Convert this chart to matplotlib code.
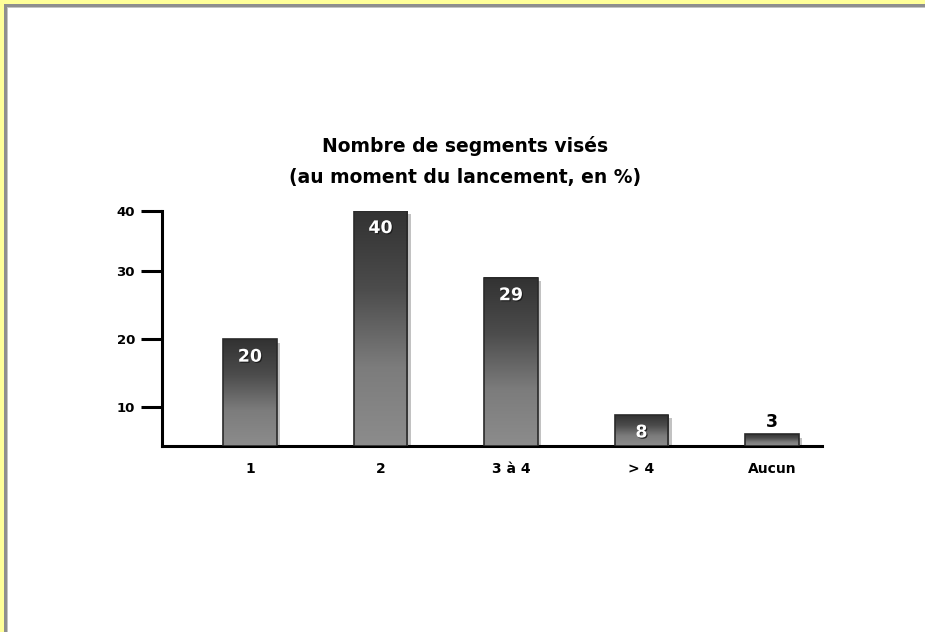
import numpy as np
import matplotlib
matplotlib.use("Agg")
import matplotlib.pyplot as plt
from matplotlib.patches import Rectangle
from matplotlib.transforms import Bbox, TransformedBbox, BboxTransformTo, ScaledTranslation
from matplotlib.colors import LinearSegmentedColormap
import matplotlib.patheffects as pe

plt.rcParams["font.family"] = ["DejaVu Sans"]
plt.rcParams["font.weight"] = "bold"

# --- data -------------------------------------------------------------
title_lines = ["Nombre de segments visés", "(au moment du lancement, en %)"]
categories = ["1", "2", "3 à 4", "> 4", "Aucun"]
values = [20, 40, 29, 8, 3]
y_ticks = [10, 20, 30, 40]

# the value axis is drawn piecewise: each decade gets its own height
axis_levels = [0, 10, 20, 30, 40]
level_heights = [0.0, 38.7, 106.7, 175.0, 235.3]


def _fwd(v):
    return np.interp(v, axis_levels, level_heights)


def _inv(h):
    return np.interp(h, level_heights, axis_levels)


fig = plt.figure(figsize=(9.25, 6.32), dpi=100)
fig.patch.set_facecolor("white")

# yellow frame with a grey inner rule on the top and left edges
W, H = 925.0, 632.0
for r in [
    Rectangle((0, 1 - 4 / H), 1, 4 / H, facecolor="#ffff99"),
    Rectangle((0, 0), 4 / W, 1, facecolor="#ffff99"),
    Rectangle((4 / W, 1 - 8 / H), 1 - 4 / W, 4 / H, facecolor="#c4c4c4"),
    Rectangle((4 / W, 0), 4 / W, 1 - 4 / H, facecolor="#c4c4c4"),
    Rectangle((4 / W, 1 - 7 / H), 1 - 4 / W, 3 / H, facecolor="#8e8e8e"),
    Rectangle((4 / W, 0), 3 / W, 1 - 4 / H, facecolor="#8e8e8e"),
]:
    r.set_transform(fig.transFigure)
    r.set_edgecolor("none")
    fig.add_artist(r)

ax = fig.add_axes([162 / W, 186 / H, (822 - 162) / W, (446 - 210.7) / H])
ax.set_yscale("function", functions=(_fwd, _inv))

x = np.arange(len(categories))
bar_w = 0.41
bars = ax.bar(x, values, width=bar_w, facecolor="none",
              edgecolor="#2a2a2a", linewidth=1.2, zorder=4)

grad = LinearSegmentedColormap.from_list(
    "bar_grad", ["#8c8c8c", "#7c7c7c", "#4c4c4c", "#323232"])
ramp = np.linspace(0, 1, 256).reshape(-1, 1)

# drop shadow: the same rectangle nudged right and down on the page
shadow_shift = ax.transData + ScaledTranslation(2.4 / 72, -2.4 / 72,
                                                fig.dpi_scale_trans)
for b in bars:
    sh = Rectangle((b.get_x(), 0), b.get_width(), b.get_height(),
                   transform=shadow_shift, facecolor="#c2c2c2",
                   edgecolor="none", zorder=1)
    ax.add_patch(sh)
    box = Bbox.from_bounds(b.get_x(), 0, b.get_width(), b.get_height())
    tb = TransformedBbox(box, ax.transData)
    ax.imshow(ramp, cmap=grad, origin="lower", extent=(0, 1, 0, 1),
              transform=BboxTransformTo(tb), aspect="auto",
              interpolation="bilinear", zorder=3)

for xi, v in zip(x, values):
    if v >= 5:
        ax.annotate(str(v), (xi, v), xytext=(0, -12.5),
                    textcoords="offset points", ha="center", va="center",
                    color="white", fontsize=12.5, fontweight="bold", zorder=6,
                    path_effects=[pe.withSimplePatchShadow(offset=(0.8, -0.8),
                                                           shadow_rgbFace="#1a1a1a",
                                                           alpha=0.9)])
    else:
        ax.annotate(str(v), (xi, v), xytext=(0, 9),
                    textcoords="offset points", ha="center", va="center",
                    color="black", fontsize=12.5, fontweight="bold", zorder=6)

ax.set_xlim(-0.674, 4.383)
ax.set_ylim(0, 40)

for s in ("top", "right"):
    ax.spines[s].set_visible(False)
for s in ("left", "bottom"):
    ax.spines[s].set_linewidth(2.2)
    ax.spines[s].set_color("black")
    ax.spines[s].set_zorder(2)

ax.set_yticks(y_ticks)
ax.set_yticklabels([str(t) for t in y_ticks])
ax.yaxis.set_minor_locator(matplotlib.ticker.NullLocator())
ax.tick_params(axis="y", direction="out", length=15, width=2.2,
               pad=4.5, labelsize=9.5, colors="black")
ax.set_xticks(x)
ax.set_xticklabels(categories)
ax.tick_params(axis="x", length=0, pad=11.5, labelsize=10)
for lab in ax.get_xticklabels() + ax.get_yticklabels():
    lab.set_fontweight("bold")

ax.patch.set_visible(False)

fig.text(465 / W, 1 - 146 / H, title_lines[0], ha="center", va="center",
         fontsize=13.5, fontweight="bold")
fig.text(465 / W, 1 - 178 / H, title_lines[1], ha="center", va="center",
         fontsize=13.5, fontweight="bold")

fig.savefig("out.png", dpi=100, facecolor="white")
